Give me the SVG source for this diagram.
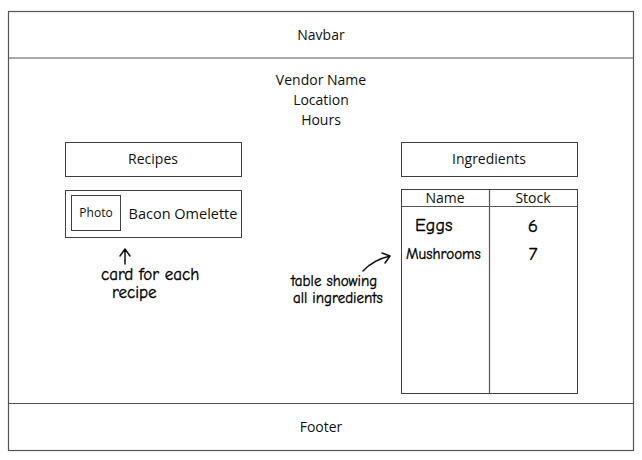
<svg xmlns="http://www.w3.org/2000/svg" width="642" height="460" viewBox="0 0 642 460">
<style>
.box{fill:#fff;stroke:#404040;stroke-width:1}
.line{stroke:#555;stroke-width:1.2;fill:none}
.t{font-family:"Open Sans","Liberation Sans",sans-serif;font-size:14px;fill:#111;text-anchor:middle}
.h{font-family:"Comic Neue","DejaVu Sans",sans-serif;font-size:13px;fill:#000;font-weight:400;stroke:#000;stroke-width:0.35}
.pen{stroke:#111;stroke-width:1.5;fill:none;stroke-linecap:round;stroke-linejoin:round}
</style>
<rect width="642" height="460" fill="#fff"/>
<g id="page">
<rect x="8.5" y="11.5" width="625" height="439" fill="#fff" stroke="#555" stroke-width="1.2"/>
</g>
<g id="navbar">
<line class="line" x1="8.5" y1="58" x2="633.5" y2="58"/>
<text class="t" x="321" y="40">Navbar</text>
</g>
<g id="vendor-info">
<text class="t" x="321" y="85">Vendor Name</text>
<text class="t" x="321" y="105">Location</text>
<text class="t" x="321" y="125">Hours</text>
</g>
<g id="recipes">
<rect class="box" x="65.5" y="142.5" width="176" height="34"/>
<text class="t" x="153" y="164">Recipes</text>
</g>
<g id="recipe-card">
<rect class="box" x="65.5" y="190.5" width="176" height="47"/>
<rect class="box" x="71.5" y="195.5" width="49" height="35"/>
<text class="t" x="96" y="217" style="font-size:12px">Photo</text>
<text class="t" x="183" y="219" style="font-size:14.5px">Bacon Omelette</text>
</g>
<g id="ingredients">
<rect class="box" x="401.5" y="142.5" width="176" height="34"/>
<text class="t" x="489" y="164">Ingredients</text>
</g>
<g id="ingredients-table">
<rect class="box" x="401.5" y="189.5" width="176" height="204"/>
<line class="line" x1="401.5" y1="206.5" x2="577.5" y2="206.5" stroke="#404040"/>
<line class="line" x1="489.5" y1="189.5" x2="489.5" y2="393.5" stroke="#404040"/>
<text class="t" x="445" y="203">Name</text>
<text class="t" x="533" y="203">Stock</text>
<text class="h" x="415" y="231" style="font-size:18px">Eggs</text>
<text class="h" x="406" y="259" style="font-size:15px">Mushrooms</text>
<text class="h" x="533" y="232" text-anchor="middle" style="font-size:19px">6</text>
<text class="h" x="533" y="260" text-anchor="middle" style="font-size:19px">7</text>
</g>
<g id="footer">
<line class="line" x1="8.5" y1="403.5" x2="633.5" y2="403.5"/>
<text class="t" x="321" y="432">Footer</text>
</g>
<g id="connectors">
<path class="pen" d="M125 264 L125 250 M120 256 L125 249 L130 256"/>
<path class="pen" d="M363 271 Q373 260 390 256 M382 253 L390 256 L385 263"/>
</g>
<g id="annotations">
<text class="h" x="101" y="280" style="font-size:17px">card for each</text>
<text class="h" x="112" y="298" style="font-size:17px">recipe</text>
<text class="h" x="291" y="286" style="font-size:15px">table showing</text>
<text class="h" x="293" y="303" style="font-size:15px">all ingredients</text>
</g>
</svg>
